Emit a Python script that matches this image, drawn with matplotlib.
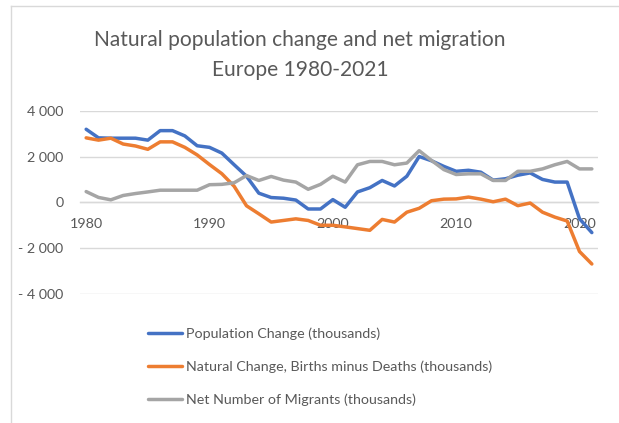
import matplotlib
matplotlib.use("Agg")
import matplotlib.pyplot as plt
from matplotlib.lines import Line2D

plt.rcParams['font.family'] = ['Lato', 'DejaVu Sans']

years = list(range(1980, 2022))
population_change = [3190, 2815, 2800, 2800, 2800, 2715, 3130, 3130, 2900, 2470,
                     2400, 2150, 1640, 1140, 400, 210, 180, 100, -290, -290,
                     120, -215, 455, 640, 955, 715, 1140, 2000, 1815, 1570,
                     1355, 1400, 1315, 970, 1030, 1185, 1285, 1000, 885, 885,
                     -715, -1320]
natural_change = [2815, 2715, 2800, 2545, 2460, 2315, 2640, 2640, 2400, 2070,
                  1650, 1250, 700, -150, -500, -860, -790, -720, -790, -1000,
                  -1000, -1070, -1145, -1220, -745, -860, -430, -260, 70, 140,
                  150, 230, 140, 25, 140, -145, -30, -430, -645, -815,
                  -2145, -2690]
net_migrants = [470, 215, 110, 300, 385, 455, 530, 530, 530, 530,
                770, 785, 855, 1170, 955, 1130, 970, 885, 570, 785,
                1140, 885, 1640, 1785, 1785, 1640, 1715, 2255, 1830, 1430,
                1215, 1245, 1245, 955, 955, 1355, 1355, 1460, 1640, 1785,
                1460, 1460]

series_labels = ["Population Change (thousands)",
                 "Natural Change, Births minus Deaths (thousands)",
                 "Net Number of Migrants (thousands)"]
series_colors = ["#4472C4", "#ED7D31", "#A5A5A5"]

y_ticks = [-4000, -2000, 0, 2000, 4000]
y_tick_labels = ["- 4 000", "- 2 000", "0", "2 000", "4 000"]
x_ticks = [1980, 1990, 2000, 2010, 2020]
x_tick_labels = ["1980", "1990", "2000", "2010", "2020"]

title = "Natural population change and net migration\nEurope 1980-2021"

text_color = "#595959"
grid_color = "#D9D9D9"

fig = plt.figure(figsize=(6.19, 4.23), dpi=100)
ax = fig.add_axes([80/619, 1-294/423, (598-80)/619, (294-110.7)/423])

handles = []
for vals, lab, col in zip([population_change, natural_change, net_migrants],
                          series_labels, series_colors):
    h, = ax.plot(years, vals, color=col, lw=2.5, label=lab,
                 solid_capstyle='round', solid_joinstyle='round', zorder=3)
    handles.append(h)

ax.set_xlim(1979.5, 2021.5)
ax.set_ylim(-4000, 4000)
ax.set_yticks(y_ticks)
ax.set_yticklabels(y_tick_labels)
ax.set_xticks(x_ticks)
ax.set_xticklabels(x_tick_labels)
ax.yaxis.grid(True, color=grid_color, lw=1.0)
ax.set_axisbelow(True)
for s in ['top', 'right', 'left']:
    ax.spines[s].set_visible(False)
ax.spines['bottom'].set_position(('data', 0))
ax.spines['bottom'].set_color(grid_color)
ax.spines['bottom'].set_linewidth(1.0)
ax.tick_params(axis='both', length=0, colors=text_color, labelsize=10.3)
ax.tick_params(axis='y', pad=12)
ax.tick_params(axis='x', pad=11)

fig.text(300/619, 1-55/423, title, ha='center', va='center', fontsize=15.1,
         color=text_color, linespacing=1.6)

fig.legend(handles=handles, loc='upper left',
           bbox_to_anchor=(148/619, 1-327/423), frameon=False,
           fontsize=10.3, labelcolor=text_color, handlelength=2.4,
           handletextpad=0.25, labelspacing=1.45, borderpad=0, borderaxespad=0)

# chart border
fig.add_artist(Line2D([11/619, 11/619], [0, 1-6/423], transform=fig.transFigure,
                      color=grid_color, lw=1.0))
fig.add_artist(Line2D([11/619, 1], [1-6/423, 1-6/423], transform=fig.transFigure,
                      color=grid_color, lw=1.0))

fig.savefig("out.png", dpi=100)
